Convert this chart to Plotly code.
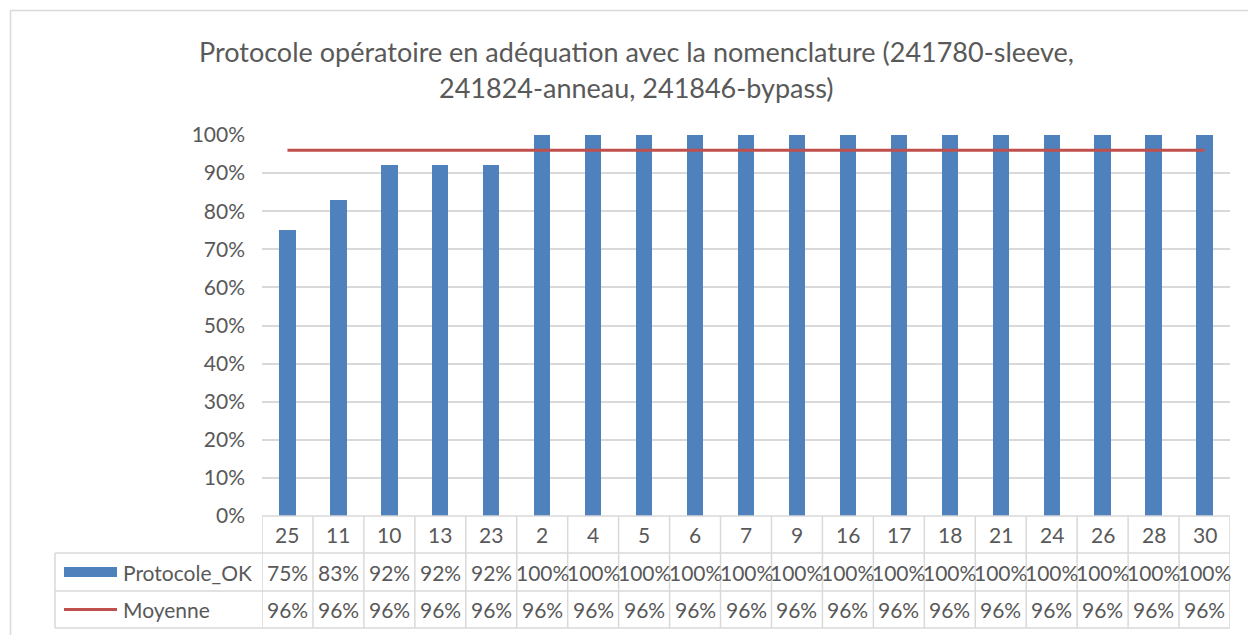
import plotly.graph_objects as go

categories = ["25", "11", "10", "13", "23", "2", "4", "5", "6", "7", "9",
              "16", "17", "18", "21", "24", "26", "28", "30"]
protocole_ok = [0.75, 0.83, 0.92, 0.92, 0.92] + [1.00] * 14
moyenne = [0.96] * 19
series_names = ["Protocole_OK", "Moyenne"]
title_lines = ["Protocole opératoire en adéquation avec la nomenclature (241780-sleeve,",
               "241824-anneau, 241846-bypass)"]

W, H = 1248, 635
FONT = "Lato"
TXT = "#595959"
GRID = "#D9D9D9"
BLUE = "#4F81BD"
RED = "#C0504D"
FS = 21

def px(x):
    return x / W

def py(y):
    return 1 - y / H

X0, X1 = 262, 1230      # plot area left/right (px)
YB, YT = 516, 135       # 0% and 100% (px)
ROWS = [516, 553, 591, 628]
LEG_X = 55

fig = go.Figure()
fig.add_trace(go.Bar(x=categories, y=protocole_ok, name=series_names[0],
                     marker=dict(color=BLUE, line=dict(width=0)), width=0.32))
fig.add_trace(go.Scatter(x=categories, y=moyenne, name=series_names[1], mode="lines",
                         line=dict(color=RED, width=3)))

n = len(categories)
shapes = []
# outer chart border
shapes.append(dict(type="line", xref="paper", yref="paper", x0=px(10.5), x1=px(1260),
                   y0=py(10.5), y1=py(10.5), line=dict(color=GRID, width=1.5)))
shapes.append(dict(type="line", xref="paper", yref="paper", x0=px(10.5), x1=px(10.5),
                   y0=py(10.5), y1=py(700), line=dict(color=GRID, width=1.5)))
# table horizontal lines
shapes.append(dict(type="line", xref="x", yref="paper", x0=-0.5, x1=n - 0.5,
                   y0=py(ROWS[0]), y1=py(ROWS[0]), line=dict(color=GRID, width=1.5)))
for r in ROWS[1:]:
    shapes.append(dict(type="line", xref="paper", yref="paper", x0=px(LEG_X), x1=px(X1),
                       y0=py(r), y1=py(r), line=dict(color=GRID, width=1.5)))
# table vertical lines
for k in range(n + 1):
    shapes.append(dict(type="line", xref="x", yref="paper", x0=k - 0.5, x1=k - 0.5,
                       y0=py(ROWS[0]), y1=py(ROWS[3]), line=dict(color=GRID, width=1.5)))
shapes.append(dict(type="line", xref="paper", yref="paper", x0=px(LEG_X), x1=px(LEG_X),
                   y0=py(ROWS[1]), y1=py(ROWS[3]), line=dict(color=GRID, width=1.5)))
# legend keys
r1c = (ROWS[0] + ROWS[1]) / 2
r2c = (ROWS[1] + ROWS[2]) / 2
r3c = (ROWS[2] + ROWS[3]) / 2
shapes.append(dict(type="rect", xref="paper", yref="paper", x0=px(64), x1=px(117),
                   y0=py(r2c - 5), y1=py(r2c + 5), fillcolor=BLUE, line=dict(width=0)))
shapes.append(dict(type="line", xref="paper", yref="paper", x0=px(64), x1=px(117),
                   y0=py(r3c), y1=py(r3c), line=dict(color=RED, width=3)))

font = dict(family=FONT, size=FS, color=TXT)
annotations = []
for i, c in enumerate(categories):
    for txt, yc in [(c, r1c),
                    (f"{round(protocole_ok[i] * 100)}%", r2c),
                    (f"{round(moyenne[i] * 100)}%", r3c)]:
        annotations.append(dict(x=i, y=py(yc), xref="x", yref="paper", text=txt,
                                xanchor="center", yanchor="middle",
                                showarrow=False, font=font))
for name, yc in zip(series_names, [r2c, r3c]):
    annotations.append(dict(x=px(121), y=py(yc), xref="paper", yref="paper", text=name,
                            xanchor="left", yanchor="middle", showarrow=False, font=font))
for line, yc in zip(title_lines, [52, 87]):
    annotations.append(dict(x=px(636), y=py(yc), xref="paper", yref="paper", text=line,
                            xanchor="center", yanchor="middle", showarrow=False,
                            font=dict(family=FONT, size=27, color=TXT)))

fig.update_layout(
    template="none",
    width=W, height=H,
    margin=dict(l=0, r=0, t=0, b=0, pad=0, autoexpand=False),
    paper_bgcolor="white", plot_bgcolor="white",
    showlegend=False,
    bargap=0,
    xaxis=dict(type="category", domain=[px(X0), px(X1)], range=[-0.5, n - 0.5],
               showticklabels=False, showgrid=False, zeroline=False, ticks="",
               showline=False, automargin=False),
    yaxis=dict(domain=[py(YB), py(YT)], range=[0, 1], dtick=0.1, tickformat=".0%",
               showgrid=True, gridcolor=GRID, gridwidth=1.5, zeroline=False,
               ticks="", ticklabelstandoff=16, showline=False, automargin=False,
               tickfont=font),
    shapes=shapes,
    annotations=annotations,
)

fig.write_html("out.html", config={"displayModeBar": False},
               post_script="document.body.style.margin='0';document.body.style.overflow='hidden';")
